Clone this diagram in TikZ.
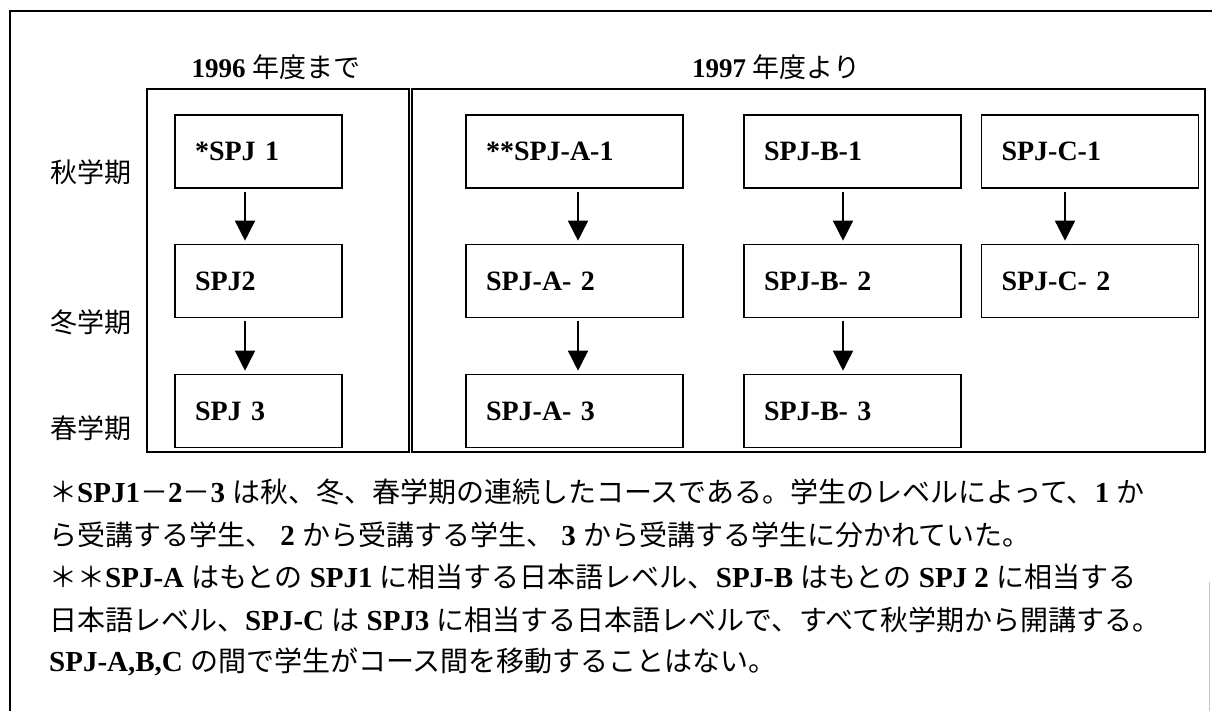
\documentclass[tikz,border=0pt]{standalone}
\usepackage{fontspec}
\setmainfont{Liberation Serif}
\newfontfamily\jp{Noto Sans CJK JP}
\usetikzlibrary{arrows.meta}
\newcommand\J[1]{{\jp\mdseries\fontsize{28}{32}\selectfont #1}}
\newcommand\K[1]{{\jp\mdseries #1}}
\begin{document}
\begin{tikzpicture}[x=1pt,y=-1pt,
  every node/.style={inner sep=0pt},
  jlab/.style={anchor=west, font=\fontsize{27}{32}\selectfont\jp},
  cbox/.style={draw, line width=1.6pt, minimum height=73pt, inner xsep=20pt, inner ysep=0pt, align=left, font=\fontsize{28}{32}\selectfont\bfseries},
  narrow/.style={text width=127pt},
  wide/.style={text width=177pt},
  panel/.style={draw, line width=1.6pt},
  frame/.style={draw, line width=1.8pt},
  faint/.style={draw, gray!45, line width=0.6pt},
  arr/.style={line width=1.6pt, -{Triangle[length=20pt,width=20pt]}, shorten <=3pt, shorten >=3pt},
  head/.style={anchor=west, font=\fontsize{27}{32}\selectfont\bfseries},
  note/.style={anchor=west, font=\fontsize{29}{32}\selectfont\bfseries}
]
\useasboundingbox (0,0) rectangle (1212,711);
\fill[white] (0,0) rectangle (1212,711);
\draw[frame] (10,711) -- (10,11) -- (1212,11);
\draw[faint] (1209,582) -- (1209,711);

% panels
\draw[panel] (147,89) rectangle (409,452);
\draw[panel] (412,89) rectangle (1205,452);

% headers
\node[head, anchor=center] (h1) at (276,67) {1996 \K{年度まで}};
\node[head] (h2) at (692,67) {1997 \K{年度より}};

% term labels
\node[jlab] (s1) at (50,172) {秋学期};
\node[jlab] (s2) at (50,322) {冬学期};
\node[jlab] (s3) at (50,428) {春学期};

% boxes
\node[cbox,narrow] (L1) at (258.5,151.5) {*SPJ 1};
\node[cbox,narrow] (L2) at (258.5,281) {SPJ2};
\node[cbox,narrow] (L3) at (258.5,411) {SPJ 3};
\node[cbox,wide] (A1) at (574.5,151.5) {**SPJ-A-1};
\node[cbox,wide] (A2) at (574.5,281) {SPJ-A- 2};
\node[cbox,wide] (A3) at (574.5,411) {SPJ-A- 3};
\node[cbox,wide] (B1) at (852.5,151.5) {SPJ-B-1};
\node[cbox,wide] (B2) at (852.5,281) {SPJ-B- 2};
\node[cbox,wide] (B3) at (852.5,411) {SPJ-B- 3};
\node[cbox,wide] (C1) at (1090,151.5) {SPJ-C-1};
\node[cbox,wide] (C2) at (1090,281) {SPJ-C- 2};

% arrows
\draw[arr] ([xshift=-13.5pt]L1.south) -- ([xshift=-13.5pt]L2.north);
\draw[arr] ([xshift=-13.5pt]L2.south) -- ([xshift=-13.5pt]L3.north);
\draw[arr] ([xshift=3.5pt]A1.south) -- ([xshift=3.5pt]A2.north);
\draw[arr] ([xshift=3.5pt]A2.south) -- ([xshift=3.5pt]A3.north);
\draw[arr] ([xshift=-9.5pt]B1.south) -- ([xshift=-9.5pt]B2.north);
\draw[arr] ([xshift=-9.5pt]B2.south) -- ([xshift=-9.5pt]B3.north);
\draw[arr] ([xshift=-25pt]C1.south) -- ([xshift=-25pt]C2.north);

% notes
\node[note] (n1) at (49,492) {\J{＊}SPJ1\J{－}2\J{－}3 \J{は秋、冬、春学期の連続したコースである。学生のレベルによって、}1 \J{か}};
\node[note] (n2) at (49,534.5) {\J{ら受講する学生、} 2 \J{から受講する学生、} 3 \J{から受講する学生に分かれていた。}};
\node[note] (n3) at (49,577) {\J{＊＊}SPJ-A \J{はもとの} SPJ1 \J{に相当する日本語レベル、}SPJ-B \J{はもとの} SPJ 2 \J{に相当する}};
\node[note] (n4) at (49,619.5) {\J{日本語レベル、}SPJ-C \J{は} SPJ3 \J{に相当する日本語レベルで、すべて秋学期から開講する。}};
\node[note] (n5) at (49,662) {SPJ-A,B,C \J{の間で学生がコース間を移動することはない。}};
\end{tikzpicture}
\end{document}
